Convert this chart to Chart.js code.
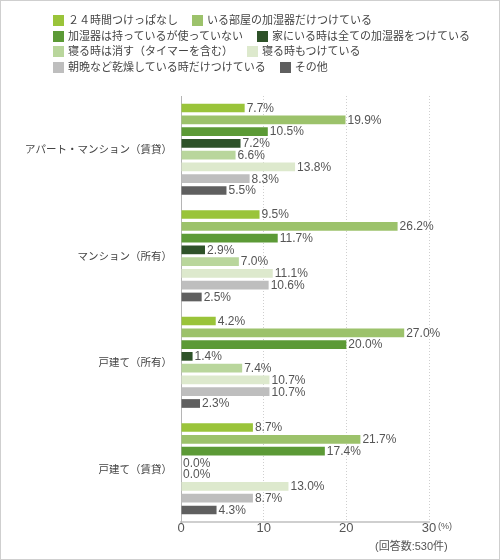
<!DOCTYPE html>
<html>
<head>
<meta charset="utf-8">
<script src="https://cdn.jsdelivr.net/npm/chart.js@4"></script>
<style>
  html, body { margin: 0; padding: 0; background: #fff; }
  #wrap {
    position: relative; width: 498px; height: 558px;
    border: 1px solid #cfcfcf; overflow: hidden;
    font-family: "Liberation Sans", "Noto Sans CJK JP", sans-serif;
  }
  #chart { position: absolute; left: -1px; top: -1px; }
  #legend {
    position: absolute; left: 52px; top: 12px; width: 440px;
    display: flex; flex-wrap: wrap; font-size: 11px; color: #444;
    line-height: 15.5px;
  }
  .item { display: flex; align-items: center; margin-right: 14px; white-space: nowrap; }
  .box { width: 11px; height: 11px; margin-right: 4px; }
  #pct { position: absolute; left: 437px; top: 520px; font-size: 9px; color: #555; }
  #note { position: absolute; left: 374px; top: 536px; font-size: 11px; color: #555; }
</style>
</head>
<body>
<div id="wrap">
  <canvas id="chart" width="500" height="560"></canvas>
  <div id="legend"></div>
  <span id="pct">(%)</span>
  <span id="note">(回答数:530件)</span>
</div>
<script>
// 住居形態
const categories = ['アパート・マンション（賃貸）', 'マンション（所有）', '戸建て（所有）', '戸建て（賃貸）'];

const seriesNames = [
    '２４時間つけっぱなし',
    'いる部屋の加湿器だけつけている',
    '加湿器は持っているが使っていない',
    '家にいる時は全ての加湿器をつけている',
    '寝る時は消す（タイマーを含む）',
    '寝る時もつけている',
    '朝晩など乾燥している時だけつけている',
    'その他'
];
const seriesColors = ['#9ac43a', '#9cc26b', '#5c9a36', '#2e5229', '#b9d69c', '#dde9cd', '#bebebe', '#5f5f5f'];

// 値 (%)
const allDay       = [7.7, 9.5, 4.2, 8.7];
const roomOnly     = [19.9, 26.2, 27.0, 21.7];
const notUsing     = [10.5, 11.7, 20.0, 17.4];
const allWhenHome  = [7.2, 2.9, 1.4, 0.0];
const offAtSleep   = [6.6, 7.0, 7.4, 0.0];
const onAtSleep    = [13.8, 11.1, 10.7, 13.0];
const dryTimesOnly = [8.3, 10.6, 10.7, 8.7];
const others       = [5.5, 2.5, 2.3, 4.3];

const xTicks = [0, 10, 20, 30];

const seriesValues = [allDay, roomOnly, notUsing, allWhenHome, offAtSleep, onAtSleep, dryTimesOnly, others];

// leyenda en HTML
const legendEl = document.getElementById('legend');
seriesNames.forEach((name, i) => {
    const item = document.createElement('div');
    item.className = 'item';
    item.innerHTML = `<span class="box" style="background:${seriesColors[i]}"></span>${name}`;
    legendEl.appendChild(item);
});

// etiquetas de valor al final de cada barra
const valueLabels = {
    id: 'valueLabels',
    afterDatasetsDraw(chart) {
        const ctx = chart.ctx;
        ctx.save();
        ctx.font = '12px "Liberation Sans", Arial, sans-serif';
        ctx.fillStyle = '#555';
        ctx.textAlign = 'left';
        ctx.textBaseline = 'middle';
        chart.data.datasets.forEach((ds, di) => {
            chart.getDatasetMeta(di).data.forEach((bar, i) => {
                ctx.fillText(ds.data[i].toFixed(1) + '%', bar.x + 2, bar.y + 0.5);
            });
        });
        ctx.restore();
    }
};

const ctx = document.getElementById('chart').getContext('2d');
new Chart(ctx, {
    type: 'bar',
    data: {
        labels: categories,
        datasets: seriesNames.map((name, i) => ({
            label: name,
            data: seriesValues[i],
            backgroundColor: seriesColors[i],
            borderWidth: 0,
            barPercentage: 0.74,
            categoryPercentage: 0.885
        }))
    },
    options: {
        indexAxis: 'y',
        responsive: false,
        animation: false,
        devicePixelRatio: 1,
        layout: { padding: { top: 96, right: 71, bottom: 0, left: 0 } },
        plugins: {
            legend: { display: false },
            tooltip: { enabled: false }
        },
        scales: {
            x: {
                min: 0,
                max: 30,
                afterBuildTicks: (scale) => { scale.ticks = xTicks.map(v => ({ value: v })); },
                afterFit: (scale) => { scale.height = 38; },
                grid: {
                    drawTicks: false,
                    color: (c) => c.tick && c.tick.value === 0 ? 'rgba(0,0,0,0)' : '#cfcfcf',
                    lineWidth: 1
                },
                border: { display: true, color: '#cfcfcf', width: 2, dash: [1, 2] },
                ticks: {
                    padding: -1,
                    color: '#555',
                    font: { size: 13, family: '"Liberation Sans", Arial, sans-serif' }
                }
            },
            y: {
                afterFit: (scale) => { scale.width = 181; },
                grid: { display: false, drawTicks: false },
                border: { display: true, color: '#b5b5b5', width: 1 },
                ticks: {
                    padding: 9,
                    color: '#444',
                    font: { size: 10.5, family: '"Noto Sans CJK JP", sans-serif' }
                }
            }
        }
    },
    plugins: [valueLabels]
});
</script>
</body>
</html>
